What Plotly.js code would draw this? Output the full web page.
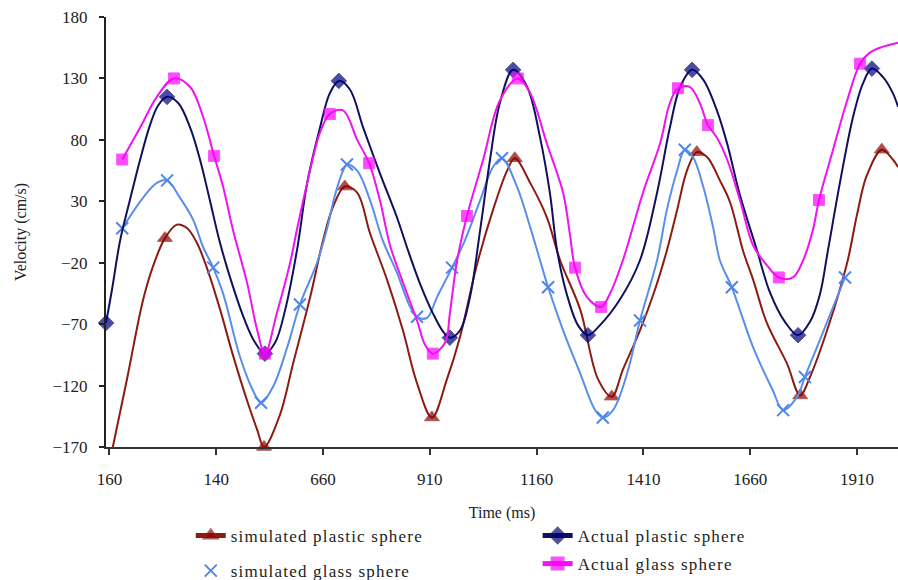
<!DOCTYPE html>
<html>
<head>
<meta charset="utf-8">
<script src="https://cdn.plot.ly/plotly-3.0.1.min.js"></script>
<style>
  html, body { margin: 0; padding: 0; background: #fff; }
  #chart { width: 898px; height: 580px; }
  svg text.legendtext, svg .legend text, svg .legend2 text { letter-spacing: 1.2px !important; }
</style>
</head>
<body>
<div id="chart"></div>
<script>
// ---- Data (time in ms, velocity in cm/s) ----
const xTickVals = [160, 410, 660, 910, 1160, 1410, 1660, 1910];
const xTickText = ["160", "140", "660", "910", "1160", "1410", "1660", "1910"];
const yTickVals = [-170, -120, -70, -20, 30, 80, 130, 180];

// simulated plastic sphere
const simPlasticX = [168,201,239,262,290,318,342,365,388,419,449,482,506,522,559,590,630,660,683,711,740,770,810,847,880,915,950,981,1020,1058,1091,1109,1145,1184,1215,1262,1304,1336,1362,1402,1437,1465,1489,1512,1535,1559,1589,1613,1643,1667,1699,1746,1777,1800,1840,1887,1910,1933,1968,1994,2006];
const simPlasticY = [-170,-115,-50,-23,0,11,8,-4,-24,-58,-95,-132,-156,-170,-144,-102,-48,-2,25,42,37,4,-34,-75,-118,-146,-115,-80,-22,23,55,65,45,17,-18,-58,-115,-129,-107,-75,-42,-10,23,55,70,66,47,29,-10,-34,-69,-102,-128,-113,-75,-20,19,51,72,64,58];
const simPlasticMarked = [4,13,19,25,31,37,44,52,58];

// Actual plastic sphere
const actPlasticX = [152,166,185,208,232,255,274,295,321,349,372,395,419,447,477,501,524,548,571,599,623,653,676,697,723,754,793,833,859,887,917,941,957,981,1004,1028,1051,1074,1105,1138,1168,1191,1208,1231,1257,1280,1308,1355,1402,1442,1472,1496,1524,1550,1582,1606,1636,1676,1706,1741,1772,1800,1823,1842,1870,1901,1924,1945,1971,1994,2006];
const actPlasticY = [-69,-42,-2,31,64,92,108,115,110,90,64,31,-4,-37,-67,-85,-94,-85,-59,-10,45,90,118,128,121,90,53,17,-10,-37,-61,-76,-81,-75,-48,7,64,110,137,123,82,37,-10,-46,-71,-79,-71,-50,-18,37,90,123,137,129,104,77,35,-10,-44,-68,-79,-68,-46,-10,45,99,126,138,131,118,107];
const actPlasticMarked = [0,7,16,23,32,38,45,52,60,67];

// simulated glass sphere
const simGlassX = [190,239,271,295,325,356,379,403,426,466,496,515,543,576,606,646,669,688,707,716,740,770,800,833,864,880,903,927,962,992,1028,1058,1079,1114,1145,1168,1187,1222,1262,1297,1315,1339,1372,1402,1442,1465,1489,1507,1526,1550,1573,1589,1617,1667,1713,1737,1770,1788,1823,1882];
const simGlassY = [8,33,45,47,33,15,-7,-24,-45,-97,-124,-134,-121,-89,-54,-20,7,35,55,60,55,31,-2,-28,-56,-64,-65,-48,-24,-2,31,58,65,42,9,-18,-40,-75,-110,-140,-146,-140,-110,-67,-18,23,55,72,66,42,9,-18,-40,-89,-124,-140,-129,-113,-83,-32];
const simGlassMarked = [0,3,7,11,14,19,25,28,32,36,40,43,47,52,55,57,59];

// Actual glass sphere
const actGlassX = [190,232,271,311,349,379,405,426,449,482,506,524,552,583,599,623,653,676,707,740,768,793,817,847,880,899,917,946,957,974,997,1035,1074,1116,1145,1184,1222,1238,1250,1278,1311,1332,1362,1409,1449,1472,1491,1519,1542,1561,1582,1606,1636,1667,1699,1727,1760,1784,1807,1821,1854,1887,1917,1940,1964,2006];
const actGlassY = [64,90,115,130,123,99,67,42,7,-36,-75,-94,-61,-20,7,45,86,101,104,80,61,31,-6,-36,-67,-87,-94,-85,-61,-18,18,64,112,130,118,77,37,3,-24,-48,-56,-45,-18,37,77,110,122,123,110,92,82,64,31,-6,-22,-32,-32,-18,7,31,72,112,142,151,155,159];
const actGlassMarked = [0,3,6,11,17,20,26,30,33,38,40,46,49,55,59,62];

// ---- helpers ----
function sizesFor(n, idx, s) {
  const a = new Array(n).fill(0);
  idx.forEach(i => { a[i] = s; });
  return a;
}
function pick(arr, idx) { return idx.map(i => arr[i]); }

const FONT = "Liberation Serif, Times New Roman, serif";

const traces = [
  {
    name: "simulated plastic sphere",
    x: simPlasticX, y: simPlasticY,
    mode: "lines+markers",
    line: { color: "#8b1c14", width: 2, shape: "spline", smoothing: 1 },
    marker: { symbol: "triangle-up", color: "#8b0000", size: sizesFor(simPlasticX.length, simPlasticMarked, 13) },
    cliponaxis: false,
    legend: "legend", legendgroup: "g1"
  },
  {
    name: "simulated glass sphere line",
    x: simGlassX, y: simGlassY,
    mode: "lines",
    line: { color: "#5b8ee8", width: 2, shape: "spline", smoothing: 1 },
    showlegend: false, hoverinfo: "skip"
  },
  {
    name: "simulated glass sphere",
    x: pick(simGlassX, simGlassMarked), y: pick(simGlassY, simGlassMarked),
    mode: "markers",
    marker: { symbol: "x-thin-open", color: "#4f86ea", size: 12, line: { color: "#4f86ea", width: 2 } },
    cliponaxis: false,
    legend: "legend", legendgroup: "g2"
  },
  {
    name: "Actual plastic sphere",
    x: actPlasticX, y: actPlasticY,
    mode: "lines+markers",
    line: { color: "#10105e", width: 2, shape: "spline", smoothing: 1 },
    marker: { symbol: "diamond", color: "#000080", size: sizesFor(actPlasticX.length, actPlasticMarked, 12) },
    cliponaxis: false,
    legend: "legend2", legendgroup: "g3"
  },
  {
    name: "Actual glass sphere",
    x: actGlassX, y: actGlassY,
    mode: "lines+markers",
    line: { color: "#f012f0", width: 2, shape: "spline", smoothing: 1 },
    marker: { symbol: "square", color: "#ff00ff", size: sizesFor(actGlassX.length, actGlassMarked, 11) },
    cliponaxis: false,
    legend: "legend2", legendgroup: "g4"
  }
];

const legendCommon = {
  orientation: "v",
  xanchor: "left", yanchor: "top",
  font: { family: FONT, size: 17, color: "#222" },
  bgcolor: "rgba(0,0,0,0)",
  itemsizing: "constant",
  itemwidth: 30,
  itemclick: false, itemdoubleclick: false
};

const layout = {
  width: 898, height: 580,
  margin: { l: 106, r: 0, t: 17, b: 133, autoexpand: false },
  paper_bgcolor: "#ffffff",
  plot_bgcolor: "#ffffff",
  font: { family: FONT, size: 17, color: "#222" },
  showlegend: true,
  xaxis: {
    range: [152, 2006],
    tickmode: "array", tickvals: xTickVals, ticktext: xTickText,
    showgrid: false, zeroline: false,
    showline: true, linecolor: "#333", linewidth: 2,
    ticks: "outside", ticklen: 6, tickwidth: 2, tickcolor: "#333",
    ticklabelstandoff: 10,
    tickfont: { family: FONT, size: 17, color: "#222" },
    title: { text: "Time (ms)", font: { family: FONT, size: 16, color: "#222" }, standoff: 18 }
  },
  yaxis: {
    range: [-170, 180],
    tickmode: "array", tickvals: yTickVals,
    showgrid: false, zeroline: false,
    showline: true, linecolor: "#222", linewidth: 2,
    ticks: "outside", ticklen: 5, tickwidth: 2, tickcolor: "#222",
    ticklabelstandoff: 8,
    tickfont: { family: FONT, size: 17, color: "#222" },
    title: { text: "Velocity (cm/s)", font: { family: FONT, size: 16, color: "#222" }, standoff: 22 }
  },
  legend: Object.assign({}, legendCommon, { x: 0.107, y: -0.165, tracegroupgap: 10 }),
  legend2: Object.assign({}, legendCommon, { x: 0.545, y: -0.165, tracegroupgap: 3 })
};

function fixLegends() {
  document.querySelectorAll("#chart .infolayer g[class^='legend']").forEach(function (g) {
    g.querySelectorAll("[clip-path]").forEach(function (e) { e.removeAttribute("clip-path"); });
    g.querySelectorAll("text").forEach(function (t) {
      t.setAttribute("letter-spacing", "1.2px");
      t.style.letterSpacing = "1.2px";
    });
  });
}

Plotly.newPlot("chart", traces, layout, { staticPlot: true, displayModeBar: false }).then(function () {
  fixLegends();
  setTimeout(fixLegends, 50);
});
</script>
</body>
</html>
